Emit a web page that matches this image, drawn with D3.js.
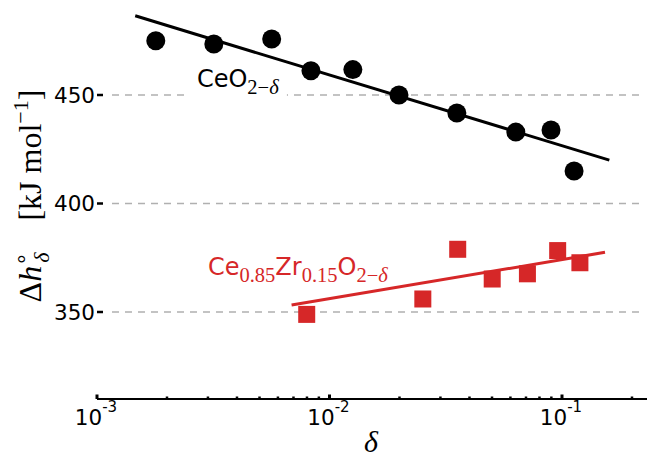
<!DOCTYPE html>
<html>
<head>
<meta charset="utf-8">
<script src="https://cdn.jsdelivr.net/npm/d3@7"></script>
<style>
  body { margin: 0; background: #fff; }
  svg { display: block; }
</style>
</head>
<body>
<div id="chart"></div>
<script>
var W = 647, H = 458;

// CeO2-delta (black circles)
var ceDelta = [0.00179, 0.00318, 0.00564, 0.00832, 0.0126, 0.0199, 0.0353, 0.0633, 0.0897, 0.1127];
var ceH     = [475.0, 473.5, 475.8, 461.2, 461.7, 450.0, 441.7, 432.9, 433.9, 415.0];
var ceFitDelta = [0.00146, 0.1598];
var ceFitH     = [486.5, 420.0];

// Ce0.85Zr0.15O2-delta (red squares)
var zrDelta = [0.00798, 0.0252, 0.0356, 0.0501, 0.0710, 0.0958, 0.1194];
var zrH     = [348.9, 356.0, 378.9, 365.2, 367.6, 378.3, 372.7];
var zrFitDelta = [0.00687, 0.1531];
var zrFitH     = [353.2, 377.5];

var yTicks = [350, 400, 450];
var xMajor = [1e-3, 1e-2, 1e-1];

var black = "#000";
var red = "#d62728";
var grid = "#b0b0b0";

var svg = d3.select("#chart").append("svg")
  .attr("width", W)
  .attr("height", H);

var x = d3.scaleLog().domain([1e-3, 1e-1]).range([97, 562]);
var y = d3.scaleLinear().domain([350, 450]).range([312, 95]);
var axisY = 399;

// gridlines
svg.append("g").selectAll("line")
  .data(yTicks)
  .enter()
  .append("line")
  .attr("x1", 112)
  .attr("x2", 640)
  .attr("y1", d => y(d))
  .attr("y2", d => y(d))
  .attr("stroke", grid)
  .attr("stroke-width", 1.3)
  .attr("stroke-dasharray", "7,6");

// y ticks + labels
var yg = svg.append("g");
yg.selectAll("line")
  .data(yTicks)
  .enter()
  .append("line")
  .attr("x1", 97)
  .attr("x2", 103)
  .attr("y1", d => y(d))
  .attr("y2", d => y(d))
  .attr("stroke", black)
  .attr("stroke-width", 2.5);
yg.selectAll("text")
  .data(yTicks)
  .enter()
  .append("text")
  .attr("x", 95)
  .attr("y", d => y(d))
  .attr("dy", "0.36em")
  .attr("text-anchor", "end")
  .style("font-family", "'DejaVu Sans', sans-serif")
  .style("font-size", "21.5px")
  .text(d => d);

// x axis
var xMax = x.invert(W);
var xMinor = [];
for (var e = -3; e <= -1; e++) {
  for (var m = 2; m <= 9; m++) {
    var v = m * Math.pow(10, e);
    if (v < xMax) xMinor.push(v);
  }
}
var xg = svg.append("g");
xg.append("line")
  .attr("x1", x(1e-3))
  .attr("x2", W)
  .attr("y1", axisY)
  .attr("y2", axisY)
  .attr("stroke", black)
  .attr("stroke-width", 2);
xg.selectAll("line.minor")
  .data(xMinor)
  .enter()
  .append("line")
  .attr("class", "minor")
  .attr("x1", d => x(d))
  .attr("x2", d => x(d))
  .attr("y1", axisY)
  .attr("y2", axisY - 2.5)
  .attr("stroke", black)
  .attr("stroke-width", 2.5);
xg.selectAll("line.major")
  .data(xMajor)
  .enter()
  .append("line")
  .attr("class", "major")
  .attr("x1", d => x(d))
  .attr("x2", d => x(d))
  .attr("y1", axisY)
  .attr("y2", axisY - 4.5)
  .attr("stroke", black)
  .attr("stroke-width", 3);
var xl = xg.selectAll("text")
  .data(xMajor)
  .enter()
  .append("text")
  .attr("x", d => x(d) - 1)
  .attr("y", 425)
  .attr("text-anchor", "middle")
  .style("font-family", "'DejaVu Sans', sans-serif")
  .style("font-size", "21.5px");
xl.append("tspan").text("10");
xl.append("tspan")
  .attr("dy", -13)
  .style("font-size", "15px")
  .text(d => String(Math.round(Math.log10(d))));

// axis titles
var yt = svg.append("text")
  .attr("transform", "translate(41," + 196 + ") rotate(-90)")
  .attr("text-anchor", "middle")
  .style("font-family", "'Liberation Serif', serif")
  .style("font-size", "32px");
yt.append("tspan").text("\u0394");
yt.append("tspan").style("font-style", "italic").text("h");
yt.append("tspan").attr("dy", -13).style("font-size", "22px").text("\u2218");
yt.append("tspan").attr("dx", -11).attr("dy", 21).style("font-size", "22px").style("font-style", "italic").text("\u03b4");
yt.append("tspan").attr("dy", -8).text("\u2003[kJ mol");
yt.append("tspan").attr("dy", -13).style("font-size", "22px").text("\u22121");
yt.append("tspan").attr("dy", 13).text("]");

svg.append("text")
  .attr("x", 371)
  .attr("y", 452)
  .attr("text-anchor", "middle")
  .style("font-family", "'Liberation Serif', serif")
  .style("font-style", "italic")
  .style("font-size", "30px")
  .text("\u03b4");

// fit lines
var line = d3.line().x(d => x(d[0])).y(d => y(d[1]));
svg.append("path")
  .datum(d3.zip(ceFitDelta, ceFitH))
  .attr("d", line)
  .attr("fill", "none")
  .attr("stroke", black)
  .attr("stroke-width", 3);
svg.append("path")
  .datum(d3.zip(zrFitDelta, zrFitH))
  .attr("d", line)
  .attr("fill", "none")
  .attr("stroke", red)
  .attr("stroke-width", 3);

// points
svg.append("g").selectAll("circle")
  .data(d3.zip(ceDelta, ceH))
  .enter()
  .append("circle")
  .attr("cx", d => x(d[0]))
  .attr("cy", d => y(d[1]))
  .attr("r", 9.5)
  .attr("fill", black);

var sq = 17;
svg.append("g").selectAll("rect")
  .data(d3.zip(zrDelta, zrH))
  .enter()
  .append("rect")
  .attr("x", d => x(d[0]) - sq / 2)
  .attr("y", d => y(d[1]) - sq / 2)
  .attr("width", sq)
  .attr("height", sq)
  .attr("fill", red);

// series labels
function formula(g, parts, color) {
  var t = g.append("text")
    .attr("fill", color)
    .style("font-family", "'DejaVu Sans', sans-serif")
    .style("font-size", "24px");
  var shift = 0;
  parts.forEach(function(p) {
    var sub = p[1];
    var ts = t.append("tspan").attr("dy", (sub ? 7 : 0) - shift).text(p[0]);
    if (sub) ts.style("font-family", "'Liberation Serif', serif").style("font-size", "20.5px");
    shift = sub ? 7 : 0;
  });
  return t;
}

var ceLabelPos = [0.00269, 453.7];
var zrLabelPos = [0.00300, 367.1];

var ceG = svg.append("g");
ceG.append("rect")
  .attr("x", x(ceLabelPos[0]) - 7)
  .attr("y", y(ceLabelPos[1]) - 23)
  .attr("width", 97)
  .attr("height", 36)
  .attr("fill", "#fff");
formula(ceG, [["CeO", false], ["2\u2212", true]], black)
  .attr("x", x(ceLabelPos[0]))
  .attr("y", y(ceLabelPos[1]))
  .append("tspan").style("font-family", "'Liberation Serif', serif").style("font-size", "20.5px").style("font-style", "italic").text("\u03b4");

formula(svg.append("g"), [["Ce", false], ["0.85", true], ["Zr", false], ["0.15", true], ["O", false], ["2\u2212", true]], red)
  .attr("x", x(zrLabelPos[0]))
  .attr("y", y(zrLabelPos[1]))
  .append("tspan").style("font-family", "'Liberation Serif', serif").style("font-size", "20.5px").style("font-style", "italic").text("\u03b4");
</script>
</body>
</html>
